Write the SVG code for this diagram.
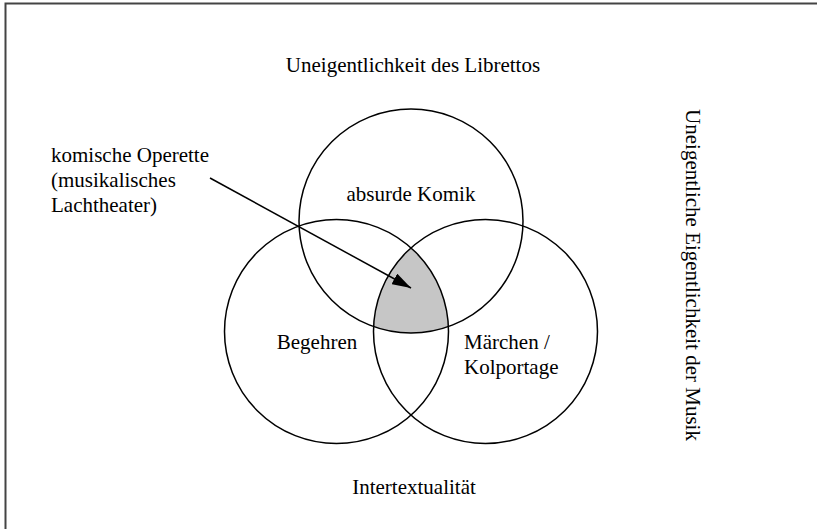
<svg xmlns="http://www.w3.org/2000/svg" width="817" height="529" viewBox="0 0 817 529">
<style>
text { font-family: "Liberation Serif", "Times New Roman", serif; font-size: 21px; fill: #000; }
.c { fill: none; stroke: #000; stroke-width: 1.5; }
.mid { text-anchor: middle; }
</style>
<defs>
<clipPath id="clipL"><circle cx="336.5" cy="331.5" r="112"/></clipPath>
<clipPath id="clipR"><circle cx="485.5" cy="331.5" r="112"/></clipPath>
<marker id="arr" markerWidth="20" markerHeight="12" refX="19" refY="6" orient="auto" markerUnits="userSpaceOnUse">
<path d="M0,0 L19,6 L0,12 Z" fill="#000"/>
</marker>
</defs>
<rect width="817" height="529" fill="#fff"/>
<path d="M5.5,529 V3.5 H817" fill="none" stroke="#444" stroke-width="2"/>
<g id="shade" clip-path="url(#clipL)">
<g clip-path="url(#clipR)">
<circle cx="411" cy="221" r="112" fill="#c6c6c6"/>
</g>
</g>
<g id="libretto">
<circle class="c" cx="411" cy="221" r="112"/>
<text class="mid" x="411" y="201">absurde Komik</text>
</g>
<g id="begehren">
<circle class="c" cx="336.5" cy="331.5" r="112"/>
<text class="mid" x="317" y="349">Begehren</text>
</g>
<g id="maerchen">
<circle class="c" cx="485.5" cy="331.5" r="112"/>
<text x="464" y="349">Märchen /</text>
<text x="464" y="374">Kolportage</text>
</g>
<g id="title-top"><text class="mid" x="413" y="72">Uneigentlichkeit des Librettos</text></g>
<g id="title-bottom"><text class="mid" x="414" y="494">Intertextualität</text></g>
<g id="title-right"><text class="mid" transform="translate(686,275) rotate(90)">Uneigentliche Eigentlichkeit der Musik</text></g>
<g id="operette">
<text x="51" y="162">komische Operette</text>
<text x="51" y="187">(musikalisches</text>
<text x="51" y="212">Lachtheater)</text>
</g>
<g id="connectors">
<line x1="210" y1="178" x2="411" y2="288" stroke="#000" stroke-width="1.5" marker-end="url(#arr)"/>
</g>
</svg>
